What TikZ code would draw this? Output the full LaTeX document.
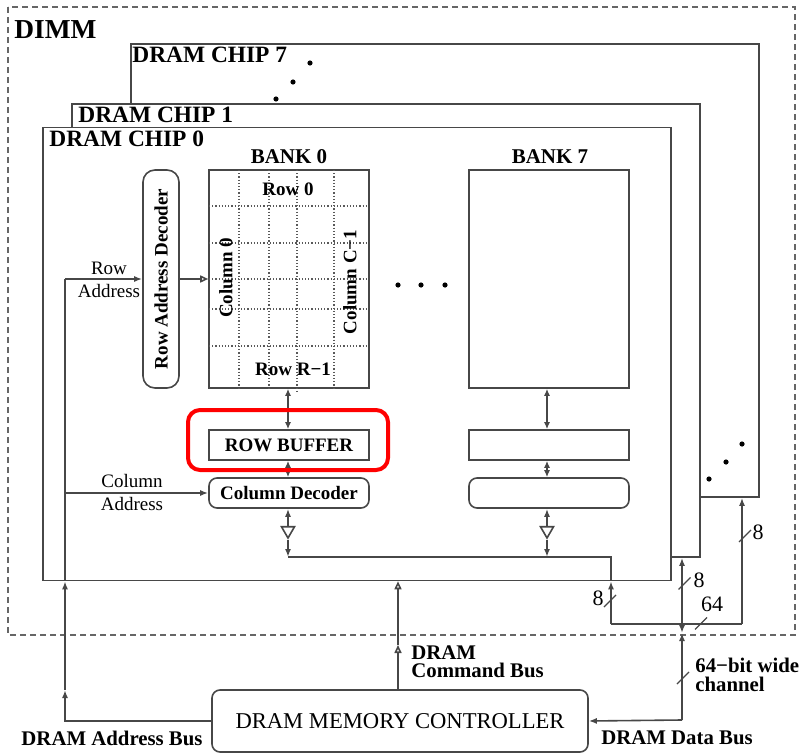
\documentclass[tikz,border=0pt]{standalone}
\usepackage{fontspec}
\setmainfont{Liberation Serif}
\usetikzlibrary{arrows.meta,shapes.geometric}

\begin{document}
\begin{tikzpicture}[
        x=0.5pt, y=-0.5pt,
        line_col/.style={draw=black!72, line width=0.8pt},
        chip_box/.style={line_col, fill=white, minimum width=314pt, minimum height=226.5pt, inner sep=0pt},
        chip_label/.style={anchor=north west, inner sep=0pt, font=\bfseries\fontsize{11.7}{12}\selectfont},
        bank_box/.style={line_col, minimum width=80pt, minimum height=109pt, inner sep=0pt},
        buf_box/.style={line_col, minimum width=80pt, minimum height=15pt, inner sep=0pt, font=\bfseries\fontsize{9.5}{10}\selectfont},
        dec_box/.style={buf_box, rounded corners=4pt},
        tri_buf/.style={line_col, regular polygon, regular polygon sides=3, shape border rotate=180, minimum size=7.5pt, inner sep=0pt},
        grid_line/.style={black!65, densely dotted, line width=0.6pt},
        cell_txt/.style={inner sep=0pt, font=\bfseries\fontsize{9.5}{10}\selectfont},
        head_txt/.style={inner sep=0pt, font=\bfseries\fontsize{10.5}{11}\selectfont},
        addr_txt/.style={inner sep=0pt, align=center, font=\fontsize{9.5}{11.5}\selectfont},
        bus_txt/.style={inner sep=0pt, align=left, font=\bfseries\fontsize{10.4}{9.3}\selectfont},
        width_txt/.style={inner sep=0pt, font=\fontsize{11}{11}\selectfont},
        arr/.style={line_col, -{Latex[length=4pt,width=3pt]}},
        dbl_arr/.style={line_col, {Latex[length=3.5pt,width=3pt]}-{Latex[length=3.5pt,width=3pt]}},
        open_arr/.style={line_col, -{Triangle[open,length=4pt,width=3.5pt]}},
        slash/.style={line_col, line width=0.6pt},
        dot/.style={circle, fill=black, inner sep=0pt, minimum size=2.6pt}
    ]

    \useasboundingbox (0,0) rectangle (804,755);

    % DIMM outline
    \draw[black!60, line width=0.7pt, dash pattern=on 3pt off 2pt] (8,7) rectangle (795,635);
    \node[anchor=north west, inner sep=0pt, font=\bfseries\fontsize{13.7}{14}\selectfont] (dimm) at (14,20) {DIMM};

    % the chips, back to front
    \node[chip_box] (chip7) at (445,270.5) {};
    \node[chip_label] (chip7_lbl) at (132,47) {DRAM CHIP 7};
    \node[chip_box] (chip1) at (386,330.5) {};
    \node[chip_label] (chip1_lbl) at (78,107) {DRAM CHIP 1};
    \node[chip_box] (chip0) at (357,354) {};
    \node[chip_label] (chip0_lbl) at (49,131) {DRAM CHIP 0};

    % dots for the chips in between
    \node[dot] (d1) at (310,63) {};
    \node[dot] (d2) at (293,82) {};
    \node[dot] (d3) at (276,99) {};
    \node[dot] (d4) at (709,479) {};
    \node[dot] (d5) at (726,462) {};
    \node[dot] (d6) at (742,444) {};

    % bank 0 with its rows and columns
    \node[head_txt] (bank0_lbl) at (289,157) {BANK 0};
    \node[bank_box] (bank0) at (289,279) {};
    \foreach \gx in {239,269,334}
        \draw[grid_line] (\gx,170) -- (\gx,388);
    \draw[grid_line] (297,170) -- (297,393);
    \foreach \gy in {206,243,279,309,346}
        \draw[grid_line] (209,\gy) -- (369,\gy);
    \node[cell_txt] (row_first) at (288,189) {Row 0};
    \node[cell_txt] (row_last) at (293,369) {Row R−1};
    \node[cell_txt, rotate=90] (col_first) at (226,278) {Column 0};
    \node[cell_txt, rotate=90] (col_last) at (350,282) {Column C−1};

    \node[line_col, rounded corners=6pt, minimum width=18pt, minimum height=109pt, inner sep=0pt] (row_dec) at (161,279) {};
    \node[cell_txt, rotate=90] (row_dec_lbl) at (row_dec) {Row Address Decoder};

    \node[buf_box] (row_buf0) at (289,445) {ROW BUFFER};
    \node[dec_box] (col_dec0) at (289,493) {Column Decoder};
    \node[tri_buf] (tri0) at (288,530.5) {};

    % bank 7
    \node[head_txt] (bank7_lbl) at (550,157) {BANK 7};
    \node[bank_box] (bank7) at (549,279) {};
    \node[buf_box] (row_buf7) at (549,445) {};
    \node[dec_box] (col_dec7) at (549,493) {};
    \node[tri_buf] (tri7) at (547,530.5) {};

    \node[dot] (b1) at (398,285) {};
    \node[dot] (b2) at (421,285) {};
    \node[dot] (b3) at (445,285) {};

    % paths inside the banks
    \draw[dbl_arr] (bank0.south -| tri0) -- (row_buf0.north -| tri0);
    \draw[dbl_arr] (row_buf0.south -| tri0) -- (col_dec0.north -| tri0);
    \draw[arr] (tri0.north) -- (col_dec0.south -| tri0);
    \draw[dbl_arr] (bank7.south -| tri7) -- (row_buf7.north -| tri7);
    \draw[dbl_arr] (row_buf7.south -| tri7) -- (col_dec7.north -| tri7);
    \draw[arr] (tri7.north) -- (col_dec7.south -| tri7);
    \draw[open_arr] (row_dec.east) -- (bank0.west);

    % data bus inside the chip
    \coordinate (bus0) at (288,557);
    \coordinate (bus_turn) at (611,557);
    \coordinate (bus_low) at (611,624);
    \coordinate (bus_mid) at (682,624);
    \coordinate (bus_end) at (742,624);
    \coordinate (dimm_edge) at (682,633);
    \coordinate (data_in) at (682,720);
    \draw[arr] (tri0.south) -- (bus0);
    \draw[arr] (tri7.south) -- (tri7 |- bus0);
    \draw[line_col] (bus0) -- (bus_turn) -- (chip0.south -| bus_turn);
    \draw[arr] (bus_low) -- (chip0.south -| bus_low);
    \draw[line_col] (bus_low) -- (bus_end);
    \draw[arr] (bus_end) -- (chip7.south -| bus_end);
    \draw[arr] (bus_mid) -- (chip1.south -| bus_mid);
    \draw[arr] (bus_mid) -- (dimm_edge);
    \draw[arr] (data_in) -- (dimm_edge);

    % bus widths
    \foreach \sx/\sy in {610/601, 684.5/583.5, 745/536, 701/623.5, 683/678}
        \draw[slash] (\sx-6,\sy+6) -- (\sx+6,\sy-6);
    \node[width_txt] (w1) at (598,598) {8};
    \node[width_txt] (w2) at (699,580) {8};
    \node[width_txt] (w3) at (758,532) {8};
    \node[width_txt] (w4) at (712,604) {64};

    % memory controller and its buses
    \node[line_col, rounded corners=4pt, minimum width=188pt, minimum height=31pt, inner sep=0pt,
          font=\fontsize{11.3}{12}\selectfont] (ctrl) at (400,721) {DRAM MEMORY CONTROLLER};

    \coordinate (addr_top) at (65,279);
    \coordinate (addr_mid) at (65,690);
    \draw[arr] (addr_top) -- (row_dec.west);
    \draw[arr] (col_dec0.west -| addr_top) -- (col_dec0.west);
    \draw[line_col] (addr_top) -- (chip0.south -| addr_top);
    \draw[arr] (addr_mid) -- (chip0.south -| addr_top);
    \draw[arr] (ctrl.west) -| (addr_mid);
    \node[addr_txt] (row_addr) at (109,280) {Row\\Address};
    \node[addr_txt] (col_addr) at (132,492) {Column\\Address};

    \coordinate (cmd_mid) at (398,645);
    \draw[open_arr] (ctrl.north -| cmd_mid) -- (cmd_mid);
    \draw[open_arr] (cmd_mid) -- (chip0.south -| cmd_mid);
    \node[bus_txt, anchor=north west] (cmd_lbl) at (411,645) {DRAM\\Command Bus};

    \draw[arr] (data_in) -- (ctrl.east);
    \node[bus_txt, anchor=north west] (chan_lbl) at (695,658) {64−bit wide\\channel};
    \node[bus_txt] (addr_lbl) at (112,738) {DRAM Address Bus};
    \node[bus_txt] (data_lbl) at (677,738) {DRAM Data Bus};

    % highlight round the row buffer
    \draw[red, line width=2pt, rounded corners=6pt] (188,410) rectangle (388,470);

\end{tikzpicture}
\end{document}
